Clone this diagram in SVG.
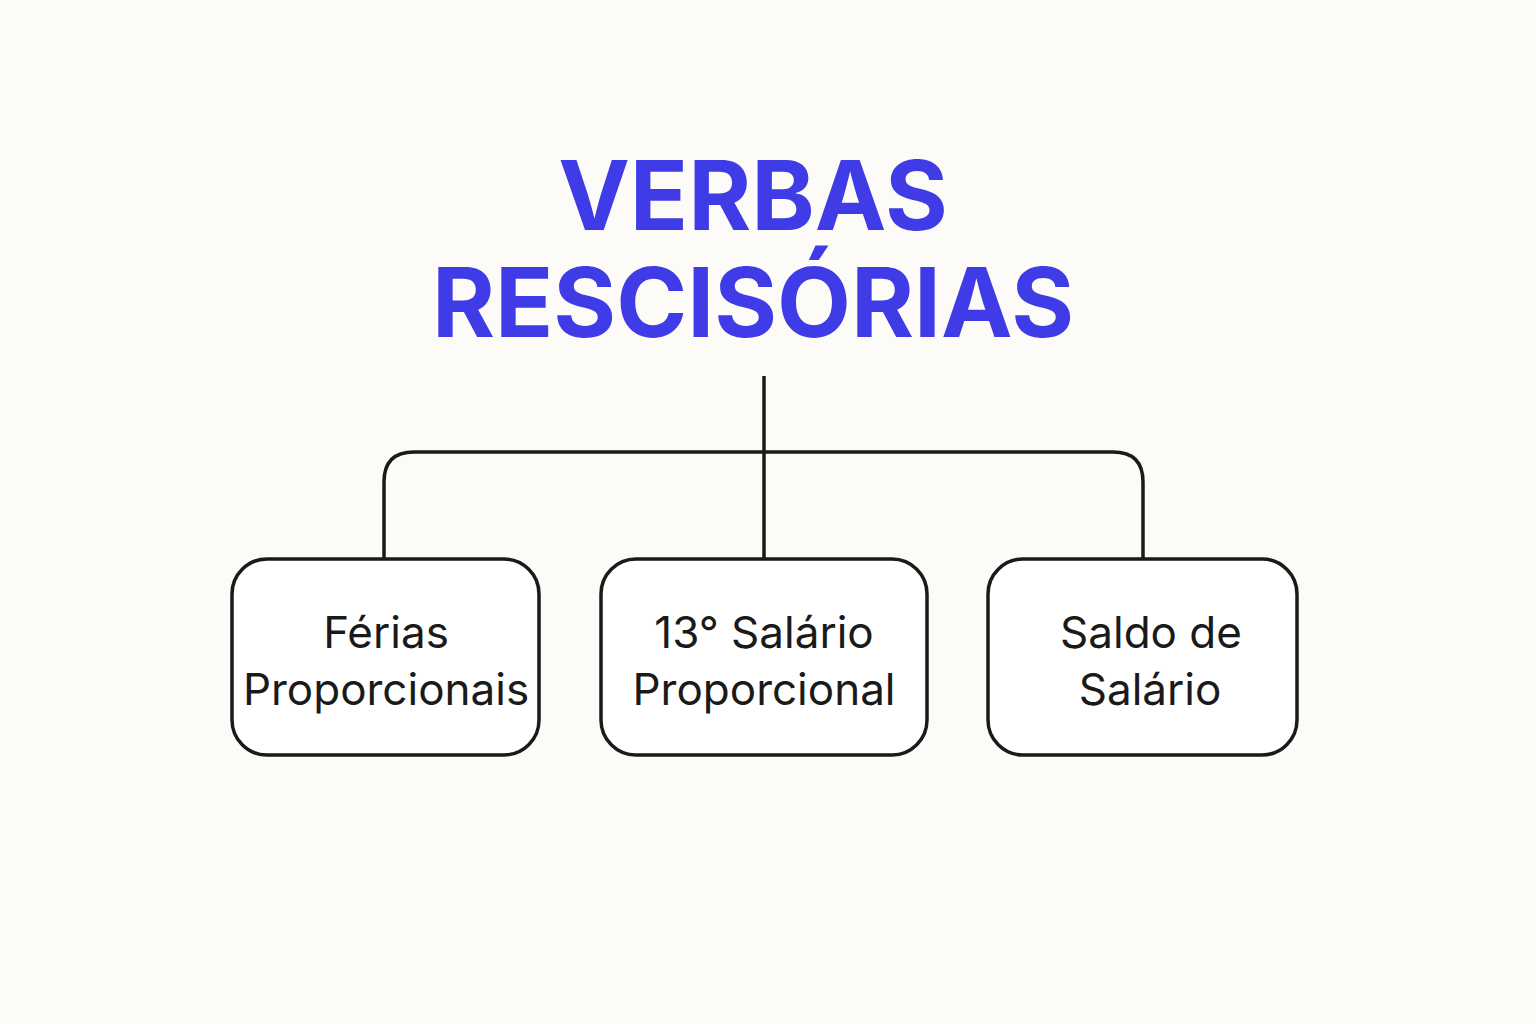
<svg xmlns="http://www.w3.org/2000/svg" width="1536" height="1024" viewBox="0 0 1536 1024">
<style>
.t{font-family:Inter,"Liberation Sans",sans-serif;font-weight:700;font-size:96px;fill:#3F3BE6;text-anchor:middle}
.b{fill:#FFFFFF;stroke:#1a1a1a;stroke-width:3.5}
.l{font-family:Inter,"Liberation Sans",sans-serif;font-size:44px;fill:#1a1a1a;text-anchor:middle}
.c{fill:none;stroke:#1a1a1a;stroke-width:3.5}
</style>
<rect width="1536" height="1024" fill="#FDFBF7"/>
<g id="title">
<text class="t" x="753" y="230">VERBAS</text>
<text class="t" x="753" y="337">RESCISÓRIAS</text>
</g>
<g id="connectors">
<path class="c" d="M764 376V558"/>
<path class="c" d="M384 558V482Q384 452 414 452H1113Q1143 452 1143 482V558"/>
</g>
<g id="n1"><rect class="b" x="232" y="559" width="307" height="196" rx="35"/>
<text class="l" x="386" y="648">Férias</text><text class="l" x="386" y="705">Proporcionais</text></g>
<g id="n2"><rect class="b" x="601" y="559" width="326" height="196" rx="35"/>
<text class="l" x="764" y="648">13° Salário</text><text class="l" x="764" y="705">Proporcional</text></g>
<g id="n3"><rect class="b" x="988" y="559" width="309" height="196" rx="35"/>
<text class="l" x="1151" y="648">Saldo de</text><text class="l" x="1150" y="705">Salário</text></g>
</svg>
